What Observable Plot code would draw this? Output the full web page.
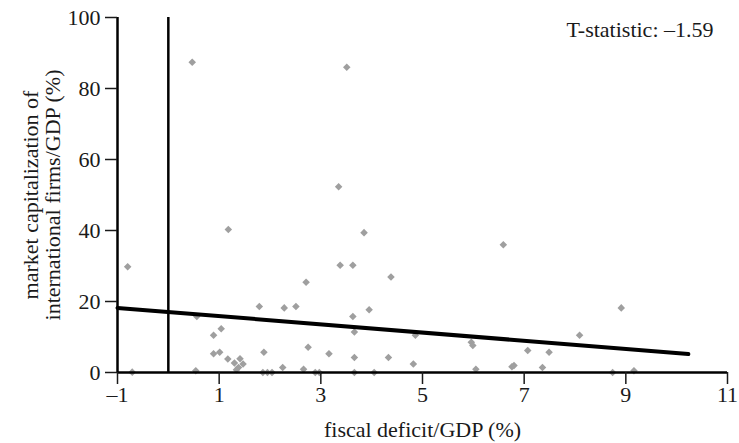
<!DOCTYPE html>
<html>
<head>
<meta charset="utf-8">
<script src="https://cdn.jsdelivr.net/npm/d3@7"></script>
<script src="https://cdn.jsdelivr.net/npm/@observablehq/plot@0.6"></script>
<style>
  body { margin: 0; background: #fff; }
  #chart svg { display: block; }
</style>
</head>
<body>
<div id="chart"></div>
<script>
// fiscal deficit/GDP (%)
const deficit = [
  -0.71, 0.56, 1.79, 2.28, 2.51, 2.71, 1.04, 0.89, 0.89, 1.01,
  1.17, 1.30, 1.41, 1.47, 1.38, 1.34, 1.88, 0.54, 1.86, 1.95,
  2.04, 2.25, 2.66, 2.75, 3.95, 3.63, 3.66, 4.86, 5.96, 5.99,
  3.16, 3.66, 4.33, 4.82, 2.89, 2.97, 3.66, 4.05, 6.05, 6.76,
  6.80, 8.91, 8.09, 7.07, 7.49, 7.36, 8.74, 9.16, 3.35, 1.18,
  3.85, 6.59, -0.80, 3.38, 3.63, 4.38, 0.47, 3.51
];
// market capitalization of international firms/GDP (%)
const marketCap = [
  0.1, 15.8, 18.6, 18.2, 18.6, 25.4, 12.3, 10.5, 5.3, 5.7,
  3.8, 2.7, 3.9, 2.4, 1.4, 0.8, 5.7, 0.5, 0.0, 0.0,
  0.0, 1.4, 0.9, 7.1, 17.7, 15.8, 11.4, 10.5, 8.5, 7.6,
  5.3, 4.2, 4.2, 2.4, 0.0, 0.0, 0.0, 0.0, 0.9, 1.6,
  2.0, 18.2, 10.5, 6.2, 5.7, 1.4, 0.0, 0.5, 52.3, 40.3,
  39.4, 36.0, 29.8, 30.2, 30.2, 26.9, 87.4, 86.0
];
// fitted regression line end points
const fitX = [-1, 10.23];
const fitY = [18.2, 5.2];
const xTicks = [-1, 1, 3, 5, 7, 9, 11];
const yTicks = [0, 20, 40, 60, 80, 100];
const tStatText = "T-statistic: \u20131.59";
const xLabel = "fiscal deficit/GDP (%)";
const yLabel = "market capitalization of\ninternational firms/GDP (%)";

const points = deficit.map((d, i) => ({x: d, y: marketCap[i]}));
const fit = fitX.map((d, i) => ({x: d, y: fitY[i]}));
const fmt = d => d < 0 ? "\u2013" + Math.abs(d) : String(d);

const chart = Plot.plot({
  width: 739,
  height: 443,
  marginLeft: 117,
  marginRight: 12,
  marginTop: 17,
  marginBottom: 71,
  style: {fontFamily: "'Liberation Serif', 'DejaVu Serif', serif", fontSize: "22px", color: "#1a1a1a", background: "#fff"},
  x: {domain: [-1, 11]},
  y: {domain: [0, 100]},
  marks: [
    Plot.dot(points, {x: "x", y: "y", symbol: "diamond2", r: 3.4, fill: "#9f9f9f", stroke: "none"}),
    Plot.line(fit, {x: "x", y: "y", stroke: "#000", strokeWidth: 4}),
    Plot.ruleX([0], {stroke: "#000", strokeWidth: 2.5}),
    Plot.ruleX([-1], {stroke: "#000", strokeWidth: 2.5}),
    Plot.ruleY([0], {stroke: "#000", strokeWidth: 2.5}),
    Plot.axisX({ticks: xTicks, tickFormat: fmt, tickSize: 12, tickPadding: 2, strokeWidth: 1.5, label: null}),
    Plot.axisY({ticks: yTicks, tickFormat: fmt, tickSize: 12, tickPadding: 5, strokeWidth: 1.5, label: null}),
    Plot.text([xLabel], {frameAnchor: "bottom", dy: 57, lineAnchor: "middle", fontSize: 22}),
    Plot.text([yLabel], {frameAnchor: "left", rotate: -90, dx: -76, textAnchor: "middle", lineAnchor: "middle", lineHeight: 1.0, fontSize: 22}),
    Plot.text([tStatText], {frameAnchor: "top-right", dx: -14, dy: 12, textAnchor: "end", lineAnchor: "middle", fontSize: 22})
  ]
});
document.getElementById("chart").appendChild(chart);
</script>
</body>
</html>
